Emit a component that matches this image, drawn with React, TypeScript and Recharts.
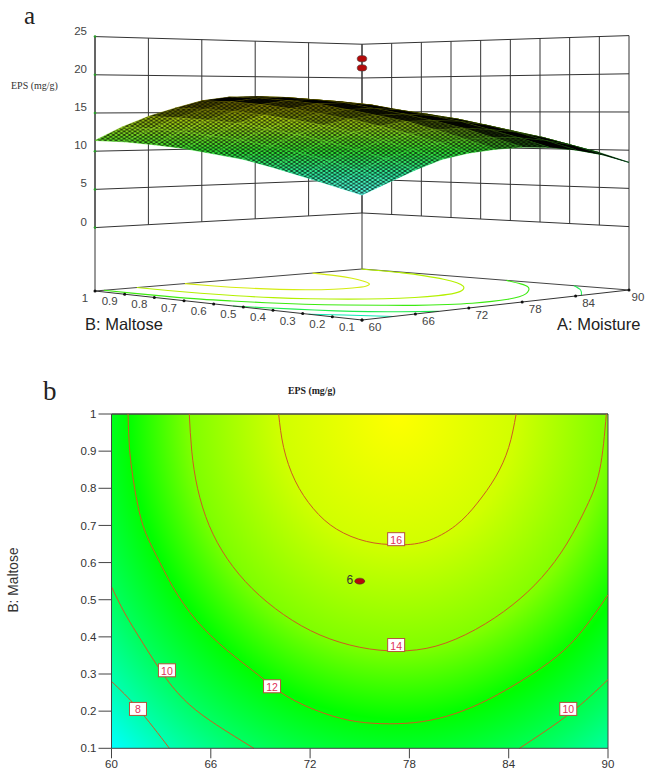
import { ComposedChart, Line, ReferenceArea, ReferenceLine, Scatter, XAxis, YAxis } from 'recharts';

// factor levels
const moistureTicks = [60, 66, 72, 78, 84, 90];
const maltoseTicks = [0.1, 0.2, 0.3, 0.4, 0.5, 0.6, 0.7, 0.8, 0.9, 1];
const epsTicks = [0, 5, 10, 15, 20, 25];

// surface heights (mg/g), one row per maltose level
const surfaceMoisture = [60, 63, 66, 69, 72, 75, 78, 81, 84, 87, 90];
const surfaceMaltose = [1, 0.9, 0.8, 0.7, 0.6, 0.5, 0.4, 0.3, 0.2, 0.1];
const epsB10 = [11.4, 13.1, 14.5, 15.6, 16.6, 17.1, 17.2, 16.9, 16.2, 15.1, 13.9];
const epsB09 = [11.4, 13.0, 14.4, 15.5, 16.5, 17.0, 17.1, 16.8, 16.1, 15.0, 13.8];
const epsB08 = [11.2, 12.8, 14.2, 15.3, 16.2, 16.7, 16.8, 16.5, 15.8, 14.8, 13.6];
const epsB07 = [10.9, 12.4, 13.9, 14.9, 15.7, 16.3, 16.4, 16.1, 15.3, 14.4, 13.2];
const epsB06 = [10.4, 12.0, 13.3, 14.4, 15.1, 15.6, 15.7, 15.4, 14.8, 14.0, 12.7];
const epsB05 = [9.9, 11.4, 12.7, 13.8, 14.5, 14.9, 15.0, 14.7, 14.2, 13.3, 12.1];
const epsB04 = [9.1, 10.7, 12.0, 13.0, 13.7, 14.2, 14.2, 14.0, 13.4, 12.5, 11.3];
const epsB03 = [8.2, 9.9, 11.1, 12.1, 12.8, 13.2, 13.3, 13.0, 12.5, 11.7, 10.6];
const epsB02 = [7.3, 8.8, 10.2, 11.1, 11.8, 12.1, 12.2, 12.0, 11.5, 10.7, 9.6];
const epsB01 = [6.4, 7.7, 9.0, 10.1, 10.7, 11.0, 11.1, 10.9, 10.4, 9.6, 8.4];
const surfaceRows = [epsB10, epsB09, epsB08, epsB07, epsB06, epsB05, epsB04, epsB03, epsB02, epsB01];

// replicate centre points
const centreMoisture = 75;
const centreMaltose = 0.55;
const centreEps = [22.3, 21.1];

// contours as [moisture, maltose]
const contour8 = [[60, 0.28], [61.6, 0.207], [63.5, 0.1]];
const contour10Left = [[60, 0.535], [60.8, 0.464], [61.9, 0.383], [63.3, 0.288], [64.7, 0.218], [66.35, 0.163], [68.6, 0.1]];
const contour10Right = [[84.65, 0.1], [87.7, 0.194], [90, 0.285]];
const contour12 = [[61, 1], [61.1, 0.9], [61.4, 0.8], [61.9, 0.7], [62.7, 0.62], [63.7, 0.535], [65.1, 0.446], [66.95, 0.365], [68.8, 0.3], [70.6, 0.24], [72.8, 0.195], [74.8, 0.172], [76.8, 0.166], [78.8, 0.172], [80.8, 0.194], [82.8, 0.232], [84.85, 0.284], [86.9, 0.347], [88.5, 0.42], [90, 0.513]];
const contour14 = [[64.7, 1], [64.85, 0.9], [65.2, 0.8], [65.9, 0.7], [67, 0.61], [68.5, 0.53], [70.4, 0.46], [72.6, 0.405], [75, 0.372], [77.3, 0.362], [79.6, 0.375], [82, 0.42], [84.2, 0.485], [86, 0.56], [87.5, 0.65], [88.7, 0.75], [89.5, 0.85], [89.9, 1]];
const contour16 = [[70.1, 1], [70.4, 0.91], [71.1, 0.82], [72.2, 0.745], [73.6, 0.69], [75.4, 0.657], [77.2, 0.648], [79, 0.657], [80.8, 0.7], [82.1, 0.76], [83.2, 0.83], [84, 0.91], [84.45, 1]];

const contourLabels = [
  { a: 61.6, b: 0.206, level: 8 },
  { a: 63.35, b: 0.31, level: 10 },
  { a: 87.6, b: 0.206, level: 10 },
  { a: 69.7, b: 0.267, level: 12 },
  { a: 77.2, b: 0.378, level: 14 },
  { a: 77.2, b: 0.663, level: 16 },
];

const WIDTH = 646;
const TOP_HEIGHT = 345;
const BOTTOM_HEIGHT = 428;
const FLOOR_EPS = -8.3;

// oblique view of the response surface box, in chart units
function project(a: number, b: number, z: number) {
  const u = (a - 60) / 30;
  const v = (1 - b) / 0.9;
  const floor = 291 * (1 - u) * (1 - v) + 269 * u * (1 - v) + 320 * (1 - u) * v + 290 * u * v;
  const d = (u - v + 1) / 2;
  const s = d < 0.5 ? 8.5 - (d / 0.5) * 0.86 : 7.64 - ((d - 0.5) / 0.5) * 0.89;
  return { x: 95 + 267 * (u + v), y: floor - (z - FLOOR_EPS) * s };
}

function path3d(key: string, pts: number[][], stroke: string, strokeWidth = 1, type: any = 'linear') {
  return (
    <Line
      key={key}
      data={pts.map(p => project(p[0], p[1], p[2]))}
      dataKey="y"
      type={type}
      stroke={stroke}
      strokeWidth={strokeWidth}
      dot={false}
      activeDot={false}
      isAnimationActive={false}
    />
  );
}

const onFloor = (pts: number[][]) => pts.map(p => [p[0], p[1], FLOOR_EPS]);

function buildCells() {
  const cells: any[] = [];
  for (let r = 0; r < surfaceMaltose.length - 1; r++) {
    for (let c = surfaceMoisture.length - 2; c >= 0; c--) {
      const corners = [
        project(surfaceMoisture[c], surfaceMaltose[r], surfaceRows[r][c]),
        project(surfaceMoisture[c + 1], surfaceMaltose[r], surfaceRows[r][c + 1]),
        project(surfaceMoisture[c + 1], surfaceMaltose[r + 1], surfaceRows[r + 1][c + 1]),
        project(surfaceMoisture[c], surfaceMaltose[r + 1], surfaceRows[r + 1][c]),
      ];
      let area = 0;
      corners.forEach((p, i) => {
        const q = corners[(i + 1) % 4];
        area += p.x * q.y - q.x * p.y;
      });
      cells.push({
        x: corners[0].x,
        y: corners[0].y,
        corners: corners.map(p => [p.x - corners[0].x, p.y - corners[0].y]),
        area: area / 2,
        depth: surfaceMoisture[c] / 30 - (1 - surfaceMaltose[r]) / 0.9,
      });
    }
  }
  return cells.sort((p, q) => q.depth - p.depth);
}

function SurfaceCell(props: any) {
  const { cx, cy, payload } = props;
  const points = payload.corners.map((p: number[]) => `${cx + p[0]},${cy + p[1]}`).join(' ');
  const dark = Math.max(0, Math.min(1, 1 - (payload.area - 170) / 220));
  return (
    <g>
      <polygon points={points} fill="url(#surfaceFill)" stroke="url(#surfaceFill)" strokeWidth={0.6} />
      <polygon points={points} fill="url(#surfaceMesh)" />
      <polygon points={points} fill="#000" fillOpacity={dark} stroke="#000" strokeOpacity={dark} strokeWidth={0.5} />
    </g>
  );
}

function TickLabel(props: any) {
  const { cx, cy, payload } = props;
  return (
    <text x={cx + payload.dx} y={cy + payload.dy} textAnchor={payload.anchor} dominantBaseline="central"
      fontFamily="Liberation Sans" fontSize={11.5} fill="#444">
      {payload.text}
    </text>
  );
}

const tickDot = (color: string, r: number) => (props: any) => <circle cx={props.cx} cy={props.cy} r={r} fill={color} />;
const blackDot = tickDot('#111', 1.5);
const greenDot = tickDot('#2a9a2a', 1.3);

function RedDot(props: any) {
  return <ellipse cx={props.cx} cy={props.cy} rx={4.8} ry={3.2} fill="#b40a0a" stroke="#444" strokeWidth={0.6} />;
}

function ContourLabel(props: any) {
  const { cx, cy, payload } = props;
  return (
    <g>
      <rect x={cx - 8.5} y={cy - 6.5} width={17} height={13} fill="#fff" stroke="#b5533c" strokeWidth={1} />
      <text x={cx} y={cy + 0.5} textAnchor="middle" dominantBaseline="central"
        fontFamily="Liberation Sans" fontSize={10.5} fill="#e0305a">
        {payload.level}
      </text>
    </g>
  );
}

function CentreDot(props: any) {
  const { cx, cy } = props;
  return (
    <g>
      <ellipse cx={cx} cy={cy} rx={5} ry={3} fill="#b40a0a" stroke="#333" strokeWidth={0.5} />
      <text x={cx - 10} y={cy - 1} textAnchor="middle" dominantBaseline="central"
        fontFamily="Liberation Sans" fontSize={12} fill="#333">6</text>
    </g>
  );
}

function SurfacePanel() {
  const cells = buildCells();
  const wallTop = 25;
  const wallSeries: any[] = [];
  epsTicks.forEach(z => {
    wallSeries.push(path3d(`wall-z${z}`, [[60, 1, z], [90, 1, z], [90, 0.1, z]], '#333'));
  });
  moistureTicks.forEach(a => {
    wallSeries.push(path3d(`wall-a${a}`, [[a, 1, a === 90 ? FLOOR_EPS : 0], [a, 1, wallTop]], '#333'));
  });
  maltoseTicks.forEach(b => {
    wallSeries.push(path3d(`wall-b${b}`, [[90, b, b === 0.1 ? FLOOR_EPS : 0], [90, b, wallTop]], '#333'));
  });
  const leftLabels = maltoseTicks.map(b => ({
    ...project(60, b, FLOOR_EPS), text: String(b), dx: b === 1 ? -10 : -15, dy: 7, anchor: 'middle',
  }));
  const frontLabels = moistureTicks.map(a => ({
    ...project(a, 0.1, FLOOR_EPS), text: String(a), dx: a === 90 ? 9 : 13, dy: 7, anchor: 'middle',
  }));
  const heightLabels = epsTicks.map(z => ({
    ...project(60, 1, z), text: String(z), dx: -8, dy: -6, anchor: 'end',
  }));
  const heightDots = epsTicks.map(z => project(60, 1, z));
  const frontDots = [
    ...maltoseTicks.map(b => project(60, b, FLOOR_EPS)),
    ...moistureTicks.map(a => project(a, 0.1, FLOOR_EPS)),
  ];
  return (
    <ComposedChart width={WIDTH} height={TOP_HEIGHT} margin={{ top: 0, right: 0, bottom: 0, left: 0 }}>
      <defs>
        <linearGradient id="surfaceFill" gradientUnits="userSpaceOnUse" x1="0" y1="105" x2="0" y2="197">
          <stop offset="0" stopColor="#c8c000" />
          <stop offset="0.25" stopColor="#90d018" />
          <stop offset="0.5" stopColor="#30e030" />
          <stop offset="0.75" stopColor="#30f0a0" />
          <stop offset="1" stopColor="#60fff0" />
        </linearGradient>
        <pattern id="surfaceMesh" patternUnits="userSpaceOnUse" width="5.4" height="3.6">
          <path d="M0 1.8L2.7 0L5.4 1.8L2.7 3.6Z" fill="none" stroke="#000" strokeWidth="0.9" strokeOpacity="0.8" />
        </pattern>
      </defs>
      <XAxis type="number" dataKey="x" domain={[0, WIDTH]} hide />
      <YAxis type="number" dataKey="y" domain={[0, TOP_HEIGHT]} reversed hide />
      {path3d('floor-back', [[60, 1, FLOOR_EPS], [90, 1, FLOOR_EPS], [90, 0.1, FLOOR_EPS]], '#444')}
      {path3d('corner-left', [[60, 1, FLOOR_EPS], [60, 1, wallTop]], '#333')}
      {wallSeries}
      {path3d('floor-16', onFloor(contour16), '#d4ec10', 1.1, 'natural')}
      {path3d('floor-14', onFloor(contour14), '#b4f000', 1.1, 'natural')}
      {path3d('floor-12', onFloor(contour12), '#3cea10', 1.1, 'natural')}
      {path3d('floor-10a', onFloor(contour10Left), '#20ee50', 1.1, 'natural')}
      {path3d('floor-10b', onFloor(contour10Right), '#20ee50', 1.1, 'natural')}
      {path3d('floor-8', onFloor(contour8), '#10e8b0', 1.1, 'natural')}
      {path3d('floor-front', [[60, 1, FLOOR_EPS], [60, 0.1, FLOOR_EPS], [90, 0.1, FLOOR_EPS]], '#333')}
      <Scatter data={frontDots} dataKey="y" shape={blackDot} isAnimationActive={false} />
      <Scatter data={heightDots} dataKey="y" shape={greenDot} isAnimationActive={false} />
      <Scatter data={cells} dataKey="y" shape={SurfaceCell} isAnimationActive={false} />
      <Scatter data={centreEps.map(z => project(centreMoisture, centreMaltose, z))} dataKey="y" shape={RedDot} isAnimationActive={false} />
      <Scatter data={leftLabels} dataKey="y" shape={TickLabel} isAnimationActive={false} />
      <Scatter data={frontLabels} dataKey="y" shape={TickLabel} isAnimationActive={false} />
      <Scatter data={heightLabels} dataKey="y" shape={TickLabel} isAnimationActive={false} />
    </ComposedChart>
  );
}

const toPoints = (pts: number[][]) => pts.map(p => ({ a: p[0], b: p[1] }));
const contourSeries = [contour8, contour10Left, contour10Right, contour12, contour14, contour16];

// colour stops over the elliptical distance from the optimum
const bgRadius = 420;
const bgStops = [
  [0, '#ffff00'],
  [119, '#d0ff00'],
  [208, '#80ff00'],
  [270, '#00ff00'],
  [328, '#00ff60'],
  [372, '#00ffb0'],
  [412, '#00ffff'],
];

function ContourPanel() {
  return (
    <ComposedChart width={WIDTH} height={BOTTOM_HEIGHT} margin={{ top: 69, right: 38, bottom: 0, left: 40 }}>
      <defs>
        <radialGradient id="contourBg" gradientUnits="userSpaceOnUse" cx="0" cy="0" r={bgRadius}
          gradientTransform="translate(398 69) scale(1 1.13)">
          {bgStops.map(s => (
            <stop key={s[0]} offset={Number(s[0]) / bgRadius} stopColor={String(s[1])} />
          ))}
        </radialGradient>
      </defs>
      <XAxis type="number" dataKey="a" domain={[60, 90]} ticks={moistureTicks} height={24.7} tickSize={10}
        stroke="#444" tick={{ fontFamily: 'Liberation Sans', fontSize: 11.5, fill: '#333' }} interval={0} />
      <YAxis type="number" dataKey="b" domain={[0.1, 1]} ticks={maltoseTicks} width={71.5} tickSize={13}
        stroke="#444" tick={{ fontFamily: 'Liberation Sans', fontSize: 11.5, fill: '#333' }} interval={0} />
      <ReferenceArea x1={60} x2={90} y1={0.1} y2={1} fill="url(#contourBg)" fillOpacity={1} stroke="none" />
      <ReferenceLine y={1} stroke="#444" strokeWidth={1.5} />
      <ReferenceLine x={90} stroke="#444" />
      {contourSeries.map((c, i) => (
        <Line key={i} data={toPoints(c)} dataKey="b" type="natural" dot={false} activeDot={false} stroke="#cf5a22" strokeWidth={1}
          isAnimationActive={false} />
      ))}
      <Scatter data={contourLabels} dataKey="b" shape={ContourLabel} isAnimationActive={false} />
      <Scatter data={[{ a: centreMoisture, b: centreMaltose }]} dataKey="b" shape={CentreDot} isAnimationActive={false} />
    </ComposedChart>
  );
}

const serif = 'Liberation Serif';
const label = (style: any): any => ({ position: 'absolute', whiteSpace: 'nowrap', lineHeight: 1, ...style });

export default function App() {
  return (
    <div style={{ position: 'absolute', left: 0, top: 0, width: WIDTH, height: TOP_HEIGHT + BOTTOM_HEIGHT, background: '#fff', overflow: 'hidden' }}>
      <SurfacePanel />
      <ContourPanel />
      <div style={label({ left: 24, top: 3, fontFamily: serif, fontSize: 25, color: '#222' })}>a</div>
      <div style={label({ left: 43, top: 378, fontFamily: serif, fontSize: 27, color: '#222' })}>b</div>
      <div style={label({ left: 11, top: 81, fontFamily: serif, fontSize: 10, color: '#333' })}>EPS (mg/g)</div>
      <div style={label({ left: 85, top: 316, fontFamily: 'Liberation Sans', fontSize: 16.5, color: '#222' })}>B: Maltose</div>
      <div style={label({ left: 557, top: 316, fontFamily: 'Liberation Sans', fontSize: 16.5, color: '#222' })}>A: Moisture</div>
      <div style={label({ left: 288, top: 386, fontFamily: serif, fontWeight: 'bold', fontSize: 9.8, color: '#222' })}>EPS (mg/g)</div>
      <div style={label({ left: 14, top: 580, fontFamily: 'Liberation Sans', fontSize: 13.8, color: '#333', transform: 'translate(-50%,-50%) rotate(-90deg)' })}>B: Maltose</div>
    </div>
  );
}
